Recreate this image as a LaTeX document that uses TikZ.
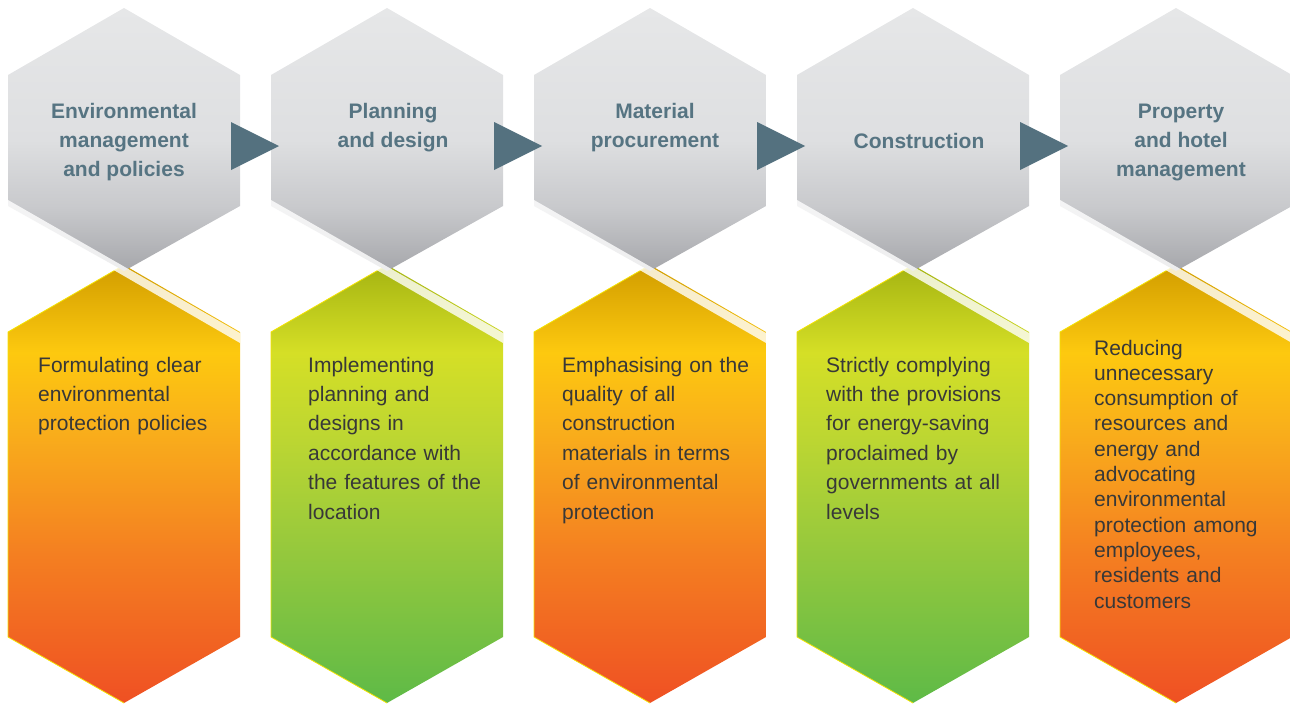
\documentclass[tikz,border=0pt]{standalone}
\usepackage{fontspec}
\setmainfont{Liberation Sans}
\usetikzlibrary{shapes.geometric,calc}

\definecolor{slate}{HTML}{54717F}
\definecolor{headblue}{HTML}{567482}
\definecolor{bodygray}{HTML}{383838}
\definecolor{rimyellow}{HTML}{F4E300}

\definecolor{gray1}{HTML}{E6E7E8}
\definecolor{gray2}{HTML}{DEDFE1}
\definecolor{gray3}{HTML}{C8C9CC}
\definecolor{gray4}{HTML}{A6A7AB}

\definecolor{or1}{HTML}{D19D00}
\definecolor{or2}{HTML}{FDC90F}
\definecolor{or3}{HTML}{F9AE1B}
\definecolor{or4}{HTML}{F47F21}
\definecolor{or5}{HTML}{EF5023}

\definecolor{gr1}{HTML}{A5B412}
\definecolor{gr2}{HTML}{D5DF26}
\definecolor{gr3}{HTML}{BCD632}
\definecolor{gr4}{HTML}{94C83D}
\definecolor{gr5}{HTML}{5EBA47}

\pgfdeclareverticalshading{grayfill}{100bp}{color(0bp)=(gray4); color(25bp)=(gray4); color(37bp)=(gray3); color(50bp)=(gray2); color(75bp)=(gray1); color(100bp)=(gray1)}
\pgfdeclareverticalshading{orangefill}{100bp}{color(0bp)=(or5); color(25bp)=(or5); color(42bp)=(or4); color(56bp)=(or3); color(65bp)=(or2); color(75bp)=(or1); color(100bp)=(or1)}
\pgfdeclareverticalshading{greenfill}{100bp}{color(0bp)=(gr5); color(25bp)=(gr5); color(42bp)=(gr4); color(55bp)=(gr3); color(65bp)=(gr2); color(75bp)=(gr1); color(100bp)=(gr1)}

\begin{document}
\begin{tikzpicture}[x=1pt, y=-1pt,
    grayhex/.style={shading=grayfill},
    orangehex/.style={shading=orangefill},
    greenhex/.style={shading=greenfill},
    rim/.style={draw=rimyellow, line width=0.8pt},
    sheen/.style={fill=white, opacity=0.8},
    stepmark/.style={isosceles triangle, isosceles triangle apex angle=53.13, fill=slate, draw=none,
        inner sep=0pt, outer sep=0pt, minimum width=48pt, minimum height=48pt, anchor=apex},
    headtext/.style={align=center, text=headblue, font=\fontsize{21}{29}\selectfont\bfseries},
    bodytext/.style={anchor=base west, align=left, text width=230pt, inner sep=0pt, text=bodygray,
        font=\fontsize{21}{29.4}\selectfont}]
    \useasboundingbox (0,0) rectangle (1290,704); % bounding box

    % lower boxes
    \path[orangehex]              (8,332) -- (124,265) -- (240,332) -- (240,637) -- (124,703) -- (8,637) -- cycle;
    \path[greenhex,  xshift=263]  (8,332) -- (124,265) -- (240,332) -- (240,637) -- (124,703) -- (8,637) -- cycle;
    \path[orangehex, xshift=526]  (8,332) -- (124,265) -- (240,332) -- (240,637) -- (124,703) -- (8,637) -- cycle;
    \path[greenhex,  xshift=789]  (8,332) -- (124,265) -- (240,332) -- (240,637) -- (124,703) -- (8,637) -- cycle;
    \path[orangehex, xshift=1052] (8,332) -- (124,265) -- (240,332) -- (240,637) -- (124,703) -- (8,637) -- cycle;

    % yellow rims
    \draw[rim]              (124,703) -- (8,637) -- (8,332) -- (124,265);
    \draw[rim, xshift=263]  (124,703) -- (8,637) -- (8,332) -- (124,265);
    \draw[rim, xshift=526]  (124,703) -- (8,637) -- (8,332) -- (124,265);
    \draw[rim, xshift=789]  (124,703) -- (8,637) -- (8,332) -- (124,265);
    \draw[rim, xshift=1052] (124,703) -- (8,637) -- (8,332) -- (124,265);

    % upper boxes
    \path[grayhex]              (8,75) -- (124,8) -- (240,75) -- (240,206) -- (124,271) -- (8,206) -- cycle;
    \path[grayhex, xshift=263]  (8,75) -- (124,8) -- (240,75) -- (240,206) -- (124,271) -- (8,206) -- cycle;
    \path[grayhex, xshift=526]  (8,75) -- (124,8) -- (240,75) -- (240,206) -- (124,271) -- (8,206) -- cycle;
    \path[grayhex, xshift=789]  (8,75) -- (124,8) -- (240,75) -- (240,206) -- (124,271) -- (8,206) -- cycle;
    \path[grayhex, xshift=1052] (8,75) -- (124,8) -- (240,75) -- (240,206) -- (124,271) -- (8,206) -- cycle;

    % light band across each pair
    \fill[sheen]              (8,200) -- (240,333) -- (240,343) -- (8,209) -- cycle;
    \fill[sheen, xshift=263]  (8,200) -- (240,333) -- (240,343) -- (8,209) -- cycle;
    \fill[sheen, xshift=526]  (8,200) -- (240,333) -- (240,343) -- (8,209) -- cycle;
    \fill[sheen, xshift=789]  (8,200) -- (240,333) -- (240,343) -- (8,209) -- cycle;
    \fill[sheen, xshift=1052] (8,200) -- (240,333) -- (240,343) -- (8,209) -- cycle;

    % centres of the upper boxes
    \coordinate (hex1) at ( 124,146);
    \coordinate (hex2) at ( 387,146);
    \coordinate (hex3) at ( 650,146);
    \coordinate (hex4) at ( 913,146);
    \coordinate (hex5) at (1176,146);

    % steps
    \node[stepmark] (step12) at ($(hex2)+(-108,0)$) {};
    \node[stepmark] (step23) at ($(hex3)+(-108,0)$) {};
    \node[stepmark] (step34) at ($(hex4)+(-108,0)$) {};
    \node[stepmark] (step45) at ($(hex5)+(-108,0)$) {};

    % headings
    \node[headtext] (envhead)  at ( 124,142)   {Environmental\\management\\and policies};
    \node[headtext] (planhead) at ( 393,127.5) {Planning\\and design};
    \node[headtext] (mathead)  at ( 655,127.5) {Material\\procurement};
    \node[headtext] (conhead)  at ( 919,141)   {Construction};
    \node[headtext] (prophead) at (1181,142)   {Property\\and hotel\\management};

    % descriptions
    \node[bodytext] (envtext)  at (  38,372) {Formulating clear\\environmental\\protection policies};
    \node[bodytext] (plantext) at ( 308,372) {Implementing\\planning and\\designs in\\accordance with\\the features of the\\location};
    \node[bodytext] (mattext)  at ( 562,372) {Emphasising on the\\quality of all\\construction\\materials in terms\\of environmental\\protection};
    \node[bodytext] (context)  at ( 826,372) {Strictly complying\\with the provisions\\for energy-saving\\proclaimed by\\governments at all\\levels};
    \node[bodytext, font=\fontsize{21}{25.3}\selectfont] (proptext) at (1094,355) {Reducing\\unnecessary\\consumption of\\resources and\\energy and\\advocating\\environmental\\protection among\\employees,\\residents and\\customers};
\end{tikzpicture}
\end{document}
